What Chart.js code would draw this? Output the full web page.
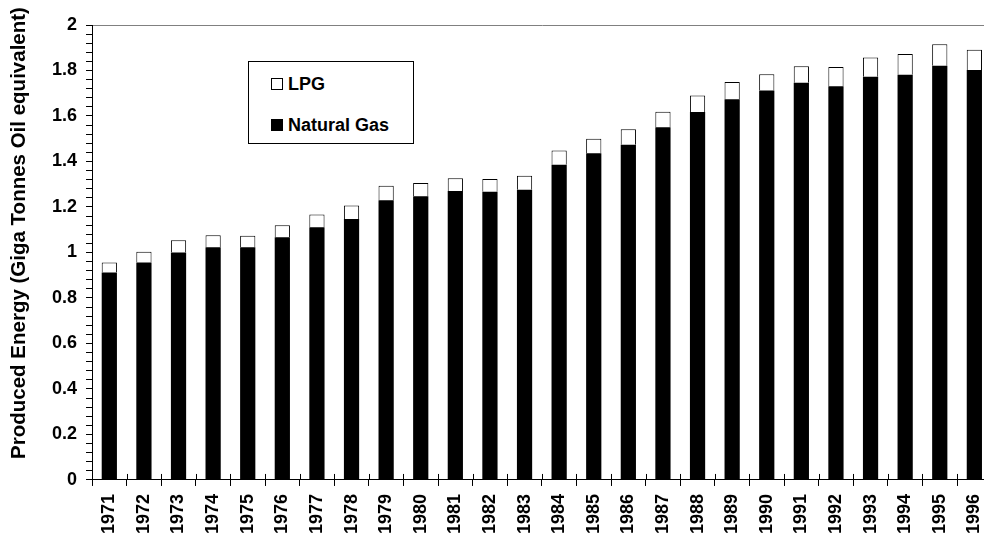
<!DOCTYPE html>
<html>
<head>
<meta charset="utf-8">
<script src="https://cdn.jsdelivr.net/npm/chart.js@4/dist/chart.umd.min.js"></script>
<style>
  html, body { margin: 0; padding: 0; background: #fff; overflow: hidden; }
  #wrap { position: relative; width: 1004px; height: 542px; }
  #legend {
    position: absolute; left: 248px; top: 61px; width: 166px; height: 83px;
    box-sizing: border-box; border: 1px solid #000; background: #fff;
    font: bold 18px Arial, "Liberation Sans", sans-serif; color: #000;
  }
  .row { position: absolute; left: 22px; height: 20px; line-height: 20px; display: flex; align-items: center; }
  .sw { width: 12px; height: 12px; box-sizing: border-box; border: 1px solid #000; margin-right: 5px; }
</style>
</head>
<body>
<div id="wrap">
  <canvas id="chart" width="1004" height="542"></canvas>
  <div id="legend">
    <div class="row" style="top:12px"><span class="sw" style="background:#fff"></span>LPG</div>
    <div class="row" style="top:53px"><span class="sw" style="background:#000"></span>Natural Gas</div>
  </div>
</div>
<script>
// Years on the x axis
const years = ["1971","1972","1973","1974","1975","1976","1977","1978","1979","1980",
               "1981","1982","1983","1984","1985","1986","1987","1988","1989","1990",
               "1991","1992","1993","1994","1995","1996"];

// Natural gas (Giga tonnes oil equivalent)
const naturalGas = [0.912,0.956,1.000,1.023,1.023,1.067,1.111,1.147,1.230,1.247,
                    1.270,1.267,1.276,1.386,1.436,1.474,1.551,1.617,1.674,1.712,
                    1.746,1.731,1.772,1.781,1.821,1.802];

// LPG stacked on top
const lpg = [0.044,0.047,0.054,0.053,0.050,0.053,0.056,0.060,0.063,0.058,
             0.056,0.056,0.061,0.062,0.064,0.068,0.068,0.073,0.075,0.072,
             0.073,0.084,0.085,0.091,0.094,0.089];

const yTitle = "Produced Energy (Giga Tonnes Oil equivalent)";
const font = "Arial, 'Liberation Sans', sans-serif";

// x ticks in Excel style cross the axis line, draw the inner half here
// also the y title, which sits a bit above the middle of the axis
const extras = {
  id: "extras",
  afterDraw(chart) {
    const x = chart.scales.x;
    const c = chart.ctx;
    const y0 = chart.chartArea.bottom;
    c.save();
    c.strokeStyle = "#000";
    c.lineWidth = 1;
    for (let i = 0; i <= years.length; i++) {
      const px = Math.round(x.getPixelForValue(i - 0.5)) + 0.5;
      c.beginPath();
      c.moveTo(px, y0);
      c.lineTo(px, y0 - 6);
      c.stroke();
    }
    c.translate(25, 233);
    c.rotate(-Math.PI / 2);
    c.fillStyle = "#000";
    c.font = "bold 20.5px " + font;
    c.textAlign = "center";
    c.textBaseline = "alphabetic";
    c.fillText(yTitle, 0, 0);
    c.restore();
  }
};

new Chart(document.getElementById("chart"), {
  type: "bar",
  data: {
    labels: years,
    datasets: [{
      label: "Natural Gas",
      data: naturalGas,
      backgroundColor: "#000",
      borderWidth: 0,
      barPercentage: 0.44,
      categoryPercentage: 1
    }, {
      label: "LPG",
      data: lpg,
      backgroundColor: "#fff",
      borderColor: "#000",
      borderWidth: 1,
      barPercentage: 0.44,
      categoryPercentage: 1
    }]
  },
  options: {
    responsive: false,
    animation: false,
    layout: { padding: { top: 25, right: 2, left: 43, bottom: 0 } },
    plugins: { legend: { display: false }, tooltip: { enabled: false } },
    scales: {
      x: {
        stacked: true,
        grid: { offset: true, drawOnChartArea: false, color: "#000", tickLength: 6 },
        border: { color: "#000", width: 1 },
        ticks: {
          color: "#000", font: { family: font, size: 18, weight: "bold" },
          minRotation: 90, maxRotation: 90, autoSkip: false, padding: 8
        }
      },
      y: {
        stacked: true,
        min: 0, max: 2,
        grid: {
          drawOnChartArea: true,
          color: ctx => (ctx.tick && Math.abs(ctx.tick.value - 2) < 1e-6) ? "#808080" : "transparent",
          tickColor: "#000", tickLength: 6
        },
        border: { color: "#000", width: 1 },
        ticks: {
          stepSize: 0.04, autoSkip: false, padding: 9,
          color: "#000", font: { family: font, size: 18, weight: "bold" },
          callback: v => {
            const r = v / 0.2;
            return Math.abs(r - Math.round(r)) < 1e-6 ? String(parseFloat(v.toFixed(1))) : "";
          }
        }
      }
    }
  },
  plugins: [extras]
});
</script>
</body>
</html>
